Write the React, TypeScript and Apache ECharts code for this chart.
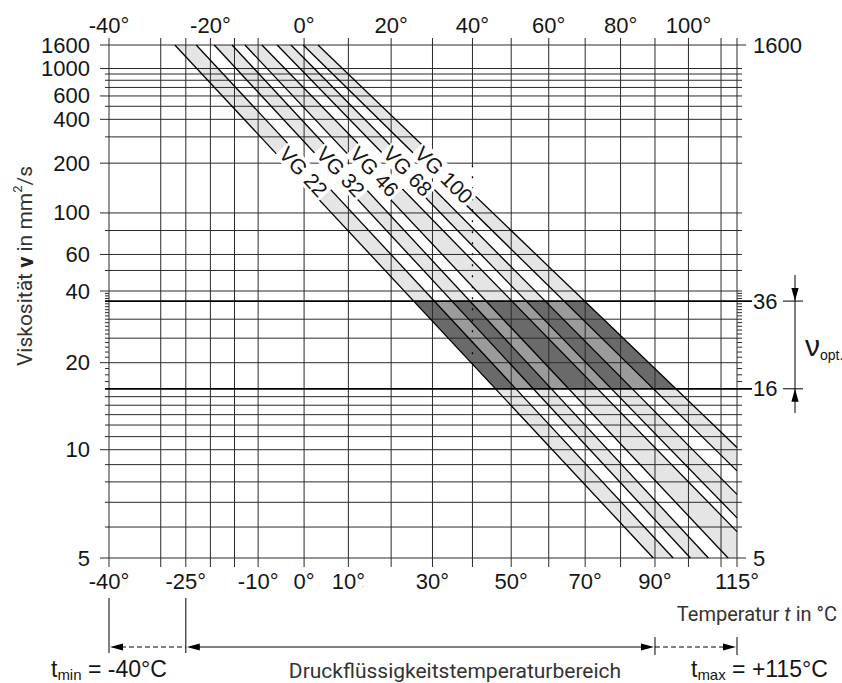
import React, { useEffect, useRef } from "react";
import * as echarts from "echarts";

// ---------- scales (Ubbelohde-Walther chart) ----------
const KELVIN = 273.15;
const WALTHER_C = 0.8;
const tx = (t: number) => Math.log10(t + KELVIN);
const ty = (v: number) => Math.log10(Math.log10(v + WALTHER_C));
const fromTx = (x: number) => Math.pow(10, x) - KELVIN;
const fromTy = (y: number) => Math.pow(10, Math.pow(10, y)) - WALTHER_C;

// ---------- data ----------
const tempMin = -40;
const tempMax = 115;
const viscMin = 5;
const viscMax = 1600;

const tempGrid = [-40, -30, -25, -20, -15, -10, 0, 10, 20, 30, 40, 50, 60, 70, 80, 90, 100, 110, 115];
const viscGrid = [5, 6, 7, 8, 9, 10, 11, 12, 13, 14, 15, 16, 20, 25, 30, 36, 40, 50, 60, 80, 100, 200, 300, 400, 500, 600, 700, 800, 900, 1000, 1600];
const viscMinorTicks = [17, 18, 19, 21, 22, 23, 24, 26, 27, 28, 29, 31, 32, 33, 34, 35, 37, 38, 39];

const tempLabelsBottom = [-40, -25, -10, 0, 10, 30, 50, 70, 90, 115];
const tempLabelsTop = [-40, -20, 0, 20, 40, 60, 80, 100];
const viscLabelsLeft = [1600, 1000, 600, 400, 200, 100, 60, 40, 20, 10, 5];
const viscLabelsRight = [1600, 36, 16, 5];

const grades = ["VG 22", "VG 32", "VG 46", "VG 68", "VG 100"];
// each grade band is bounded by two straight lines; temperature (°C) where each crosses 1600 and 5 mm²/s
const loEdgeT1600 = [-27.2, -19.2, -12.8, -5.9, -0.2];
const hiEdgeT1600 = [-22.9, -15.5, -9.2, -2.9, 3.1];
const loEdgeT5 = [89.5, 100.6, 112.2, 127.5, 144.0];
const hiEdgeT5 = [95.4, 106.1, 123.2, 135.4, 153.0];

const optVisc = [16, 36];
const gradeLabelVisc = 250;
const refTemp = 40;
const rangeTemps = [-40, -25, 90, 115];

// ---------- helpers ----------
const edgeXAt = (t1600: number, t5: number, v: number) => {
  const s = (ty(v) - ty(viscMax)) / (ty(viscMin) - ty(viscMax));
  return tx(t1600) + s * (tx(t5) - tx(t1600));
};
const edgeYAt = (t1600: number, t5: number, t: number) => {
  const s = (tx(t) - tx(t1600)) / (tx(t5) - tx(t1600));
  return ty(viscMax) + s * (ty(viscMin) - ty(viscMax));
};

function clipPoly(pts: number[][], x0: number, y0: number, x1: number, y1: number) {
  const tests: Array<[(p: number[]) => boolean, (a: number[], b: number[]) => number[]]> = [
    [(p) => p[0] >= x0, (a, b) => { const t = (x0 - a[0]) / (b[0] - a[0]); return [x0, a[1] + t * (b[1] - a[1])]; }],
    [(p) => p[0] <= x1, (a, b) => { const t = (x1 - a[0]) / (b[0] - a[0]); return [x1, a[1] + t * (b[1] - a[1])]; }],
    [(p) => p[1] >= y0, (a, b) => { const t = (y0 - a[1]) / (b[1] - a[1]); return [a[0] + t * (b[0] - a[0]), y0]; }],
    [(p) => p[1] <= y1, (a, b) => { const t = (y1 - a[1]) / (b[1] - a[1]); return [a[0] + t * (b[0] - a[0]), y1]; }],
  ];
  let out = pts;
  for (const [inside, inter] of tests) {
    const inp = out;
    out = [];
    if (!inp.length) break;
    for (let i = 0; i < inp.length; i++) {
      const cur = inp[i];
      const prev = inp[(i + inp.length - 1) % inp.length];
      if (inside(cur)) {
        if (!inside(prev)) out.push(inter(prev, cur));
        out.push(cur);
      } else if (inside(prev)) {
        out.push(inter(prev, cur));
      }
    }
  }
  return out;
}

function clipSeg(p: number[], q: number[], x0: number, y0: number, x1: number, y1: number) {
  let t0 = 0, t1 = 1;
  const dx = q[0] - p[0], dy = q[1] - p[1];
  const ps = [-dx, dx, -dy, dy];
  const qs = [p[0] - x0, x1 - p[0], p[1] - y0, y1 - p[1]];
  for (let i = 0; i < 4; i++) {
    if (ps[i] === 0) {
      if (qs[i] < 0) return null;
    } else {
      const r = qs[i] / ps[i];
      if (ps[i] < 0) { if (r > t1) return null; if (r > t0) t0 = r; }
      else { if (r < t0) return null; if (r < t1) t1 = r; }
    }
  }
  return [[p[0] + t0 * dx, p[1] + t0 * dy], [p[0] + t1 * dx, p[1] + t1 * dy]];
}

const NUM_FONT = "'Liberation Sans', Arial, Helvetica, sans-serif";
const TXT_FONT = "Roboto, 'Noto Sans', sans-serif";
const INK = "#151515";
const GRID = "#2a2a2a";

export default function App() {
  const ref = useRef<HTMLDivElement>(null);

  useEffect(() => {
    document.body.style.margin = "0";
    const chart = echarts.init(ref.current!, null, { renderer: "svg" });

    const xMin = tx(tempMin), xMax = tx(tempMax), yMin = ty(viscMin), yMax = ty(viscMax);

    const hiddenAxis = {
      type: "value" as const,
      axisLine: { show: false },
      axisTick: { show: false },
      splitLine: { show: false },
    };
    const numLabel = { color: INK, fontSize: 22, fontFamily: NUM_FONT };

    const bandData = grades.map((g, i) => ({
      name: g,
      value: [tx(loEdgeT1600[i]), tx(hiEdgeT1600[i]), tx(hiEdgeT5[i]), tx(loEdgeT5[i])],
    }));

    const edgeLines: number[][] = [];
    grades.forEach((_, i) => {
      edgeLines.push([tx(loEdgeT1600[i]), tx(loEdgeT5[i])]);
      edgeLines.push([tx(hiEdgeT1600[i]), tx(hiEdgeT5[i])]);
    });

    const rectOf = (params: any) => {
      const cs = params.coordSys;
      return [cs.x, cs.y, cs.x + cs.width, cs.y + cs.height];
    };

    const optPoly = (i0: number, i1: number) => [
      edgeXAt(loEdgeT1600[i0], loEdgeT5[i0], optVisc[1]),
      edgeXAt(hiEdgeT1600[i1], hiEdgeT5[i1], optVisc[1]),
      edgeXAt(hiEdgeT1600[i1], hiEdgeT5[i1], optVisc[0]),
      edgeXAt(loEdgeT1600[i0], loEdgeT5[i0], optVisc[0]),
    ];
    const renderOpt = (fill: string) => (params: any, api: any) => {
      const [x0, y0, x1, y1] = rectOf(params);
      const pts = [
        api.coord([api.value(0), ty(optVisc[1])]),
        api.coord([api.value(1), ty(optVisc[1])]),
        api.coord([api.value(2), ty(optVisc[0])]),
        api.coord([api.value(3), ty(optVisc[0])]),
      ];
      return { type: "polygon", shape: { points: clipPoly(pts, x0, y0, x1, y1) }, style: { fill } };
    };

    const option: any = {
      animation: false,
      grid: { left: 109, top: 45, width: 628, height: 513, outerBoundsMode: "none" },
      xAxis: [
        {
          ...hiddenAxis, position: "bottom", min: xMin, max: xMax,
          axisLabel: { ...numLabel, margin: 12, customValues: tempLabelsBottom.map(tx), formatter: (v: number) => Math.round(fromTx(v)) + "°" },
        },
        {
          ...hiddenAxis, position: "top", min: xMin, max: xMax,
          axisLabel: { ...numLabel, margin: 9, customValues: tempLabelsTop.map(tx), formatter: (v: number) => Math.round(fromTx(v)) + "°" },
        },
      ],
      yAxis: [
        {
          ...hiddenAxis, position: "left", min: yMin, max: yMax,
          axisLabel: { ...numLabel, margin: 19, customValues: viscLabelsLeft.map(ty), formatter: (v: number) => String(Math.round(fromTy(v))) },
        },
        {
          ...hiddenAxis, position: "right", min: yMin, max: yMax,
          axisLabel: { ...numLabel, margin: 16, customValues: viscLabelsRight.map(ty), formatter: (v: number) => String(Math.round(fromTy(v))) },
        },
      ],
      series: [
        // light grade bands
        {
          type: "custom", z: 1, silent: true,
          data: bandData,
          renderItem: (params: any, api: any) => {
            const [x0, y0, x1, y1] = rectOf(params);
            const pts = [
              api.coord([api.value(0), yMax]),
              api.coord([api.value(1), yMax]),
              api.coord([api.value(2), yMin]),
              api.coord([api.value(3), yMin]),
            ];
            return { type: "polygon", shape: { points: clipPoly(pts, x0, y0, x1, y1) }, style: { fill: "#e5e5e5" } };
          },
        },
        // optimum viscosity range background
        { type: "custom", z: 2, silent: true, data: [optPoly(0, 4)], renderItem: renderOpt("#9b9b9b") },
        // grade bands inside the optimum range
        { type: "custom", z: 3, silent: true, data: grades.map((_, i) => optPoly(i, i)), renderItem: renderOpt("#6a6a6a") },
        // vertical grid lines (temperature)
        {
          type: "custom", z: 4, silent: true,
          data: tempGrid.map((t) => [tx(t)]),
          renderItem: (params: any, api: any) => {
            const cs = params.coordSys;
            const t = tempGrid[params.dataIndex];
            const x = api.coord([api.value(0), yMin])[0];
            const top = cs.y - 7, bot = cs.y + cs.height + 9;
            if (t !== refTemp) {
              return { type: "line", shape: { x1: x, y1: top, x2: x, y2: bot }, style: { stroke: GRID, lineWidth: 1 } };
            }
            const yA = api.coord([api.value(0), edgeYAt(hiEdgeT1600[4], hiEdgeT5[4], t)])[1] - 28;
            const yB = api.coord([api.value(0), edgeYAt(loEdgeT1600[0], loEdgeT5[0], t)])[1];
            return {
              type: "group",
              children: [
                { type: "line", shape: { x1: x, y1: top, x2: x, y2: yA }, style: { stroke: GRID, lineWidth: 1 } },
                { type: "line", shape: { x1: x, y1: yA, x2: x, y2: yB }, style: { stroke: "#000", lineWidth: 1.3, lineDash: [2, 9] } },
                { type: "line", shape: { x1: x, y1: yB, x2: x, y2: bot }, style: { stroke: GRID, lineWidth: 1 } },
              ],
            };
          },
        },
        // horizontal grid lines (viscosity)
        {
          type: "custom", z: 4, silent: true,
          data: viscGrid.map((v) => [xMin, ty(v)]),
          renderItem: (params: any, api: any) => {
            const cs = params.coordSys;
            const v = viscGrid[params.dataIndex];
            const y = api.coord([api.value(0), api.value(1)])[1];
            const isOpt = optVisc.includes(v);
            const x1 = cs.x - (viscLabelsLeft.includes(v) ? 9 : 4);
            const x2 = cs.x + cs.width + (isOpt ? 15 : viscLabelsRight.includes(v) ? 9 : 5);
            return { type: "line", shape: { x1, y1: y, x2, y2: y }, style: { stroke: isOpt ? "#000" : GRID, lineWidth: isOpt ? 1.8 : 1 } };
          },
        },
        // minor ticks left and right
        {
          type: "custom", z: 4, silent: true,
          data: viscMinorTicks.map((v) => [xMin, ty(v)]),
          renderItem: (params: any, api: any) => {
            const cs = params.coordSys;
            const y = api.coord([api.value(0), api.value(1)])[1];
            return {
              type: "group",
              children: [
                { type: "line", shape: { x1: cs.x - 4, y1: y, x2: cs.x, y2: y }, style: { stroke: GRID, lineWidth: 1 } },
                { type: "line", shape: { x1: cs.x + cs.width, y1: y, x2: cs.x + cs.width + 5, y2: y }, style: { stroke: GRID, lineWidth: 1 } },
              ],
            };
          },
        },
        // band edge lines
        {
          type: "custom", z: 5, silent: true,
          data: edgeLines,
          renderItem: (params: any, api: any) => {
            const [x0, y0, x1, y1] = rectOf(params);
            const p = api.coord([api.value(0), yMax]);
            const q = api.coord([api.value(1), yMin]);
            const seg = clipSeg(p, q, x0, y0, x1, y1);
            if (!seg) return null;
            return { type: "line", shape: { x1: seg[0][0], y1: seg[0][1], x2: seg[1][0], y2: seg[1][1] }, style: { stroke: "#000", lineWidth: 1.3 } };
          },
        },
        // grade labels
        {
          type: "custom", z: 6, silent: true,
          data: grades.map((g, i) => ({
            name: g,
            value: [
              (edgeXAt(loEdgeT1600[i], loEdgeT5[i], gradeLabelVisc) + edgeXAt(hiEdgeT1600[i], hiEdgeT5[i], gradeLabelVisc)) / 2,
              ty(gradeLabelVisc),
            ],
          })),
          renderItem: (params: any, api: any) => {
            const i = params.dataIndex;
            const a = api.coord([api.value(0), api.value(1)]);
            const p = api.coord([tx(loEdgeT1600[i]), yMax]);
            const q = api.coord([tx(loEdgeT5[i]), yMin]);
            const ang = Math.atan2(q[1] - p[1], q[0] - p[0]);
            return {
              type: "text",
              x: a[0], y: a[1], rotation: -ang,
              style: {
                text: grades[i], fill: INK, fontSize: 21, fontFamily: NUM_FONT,
                align: "left", verticalAlign: "middle",
                backgroundColor: "#fff", padding: [0, 2, 0, 2],
              },
            };
          },
        },
      ],
    };

    chart.setOption(option);

    const px = (t: number) => chart.convertToPixel({ xAxisIndex: 0 }, tx(t)) as number;
    const py = (v: number) => chart.convertToPixel({ yAxisIndex: 0 }, ty(v)) as number;

    const [xL, xA, xB, xR] = rangeTemps.map(px);
    const ay = 647;
    const head = (tipX: number, tipY: number, dir: "l" | "r" | "u" | "d") => {
      const L = 13, W = 3.6;
      let pts: number[][];
      if (dir === "l") pts = [[tipX, tipY], [tipX + L, tipY - W], [tipX + L, tipY + W]];
      else if (dir === "r") pts = [[tipX, tipY], [tipX - L, tipY - W], [tipX - L, tipY + W]];
      else if (dir === "u") pts = [[tipX, tipY], [tipX - W, tipY + L], [tipX + W, tipY + L]];
      else pts = [[tipX, tipY], [tipX - W, tipY - L], [tipX + W, tipY - L]];
      return { type: "polygon", shape: { points: pts }, style: { fill: "#000" } };
    };
    const ln = (x1: number, y1: number, x2: number, y2: number, extra: any = {}) => ({
      type: "line", shape: { x1, y1, x2, y2 }, style: { stroke: "#000", lineWidth: 1, ...extra },
    });

    const y36 = py(optVisc[1]);
    const y16 = py(optVisc[0]);
    const nx = 795;

    const graphic: any[] = [
      // range brackets
      ln(xL, 598, xL, 653), ln(xA, 598, xA, 653), ln(xB, 637, xB, 655), ln(xR, 637, xR, 655),
      ln(xL + 12, ay, xA, ay, { lineDash: [5, 3] }),
      head(xL + 1, ay, "l"),
      ln(xA + 12, ay, xB - 12, ay),
      head(xA + 1, ay, "l"),
      head(xB - 1, ay, "r"),
      ln(xB, ay, xR - 12, ay, { lineDash: [5, 3] }),
      head(xR - 1, ay, "r"),
      // optimum viscosity marker
      ln(nx, 275, nx, 413),
      ln(783, y36, 803, y36),
      ln(783, y16, 803, y16),
      head(nx, y36, "d"),
      head(nx, y16, "u"),
      {
        type: "text", x: 805, y: (y36 + y16) / 2 + 1,
        style: {
          text: "{n|ν}{s|opt.}", verticalAlign: "middle", align: "left",
          rich: {
            n: { fontSize: 30, fontFamily: NUM_FONT, fill: INK, lineHeight: 32 },
            s: { fontSize: 14, fontFamily: NUM_FONT, fill: INK, lineHeight: 24, verticalAlign: "bottom" },
          },
        },
      },
      // y axis title
      {
        type: "text", x: 25, y: 266, rotation: Math.PI / 2,
        style: {
          text: "Viskosität {n|ν} in mm{s|2}/s", align: "center", verticalAlign: "middle",
          fontSize: 21, fontFamily: TXT_FONT, fill: "#333",
          rich: {
            n: { fontSize: 22, fontFamily: TXT_FONT, fontWeight: "bold", fill: "#222", lineHeight: 28 },
            s: { fontSize: 13, fontFamily: TXT_FONT, fill: "#333", lineHeight: 28, verticalAlign: "top" },
          },
        },
      },
      // x axis title
      {
        type: "text", x: 837, y: 614,
        style: {
          text: "Temperatur {i|t} in °C", align: "right", verticalAlign: "middle",
          fontSize: 20, fontFamily: TXT_FONT, fill: "#333",
          rich: { i: { fontSize: 20, fontStyle: "italic", fontFamily: TXT_FONT, fill: "#333" } },
        },
      },
      {
        type: "text", x: 455, y: 671,
        style: { text: "Druckflüssigkeitstemperaturbereich", align: "center", verticalAlign: "middle", fontSize: 21, fontFamily: TXT_FONT, fill: "#333" },
      },
      {
        type: "text", x: 51, y: 669,
        style: {
          text: "{m|t}{s|min}{m| = -40°C}", align: "left", verticalAlign: "middle",
          rich: {
            m: { fontSize: 23, fontFamily: NUM_FONT, fill: INK, lineHeight: 26 },
            s: { fontSize: 15, fontFamily: NUM_FONT, fill: INK, lineHeight: 18, verticalAlign: "bottom" },
          },
        },
      },
      {
        type: "text", x: 691, y: 669,
        style: {
          text: "{m|t}{s|max}{m| = +115°C}", align: "left", verticalAlign: "middle",
          rich: {
            m: { fontSize: 23, fontFamily: NUM_FONT, fill: INK, lineHeight: 26 },
            s: { fontSize: 15, fontFamily: NUM_FONT, fill: INK, lineHeight: 18, verticalAlign: "bottom" },
          },
        },
      },
    ];

    chart.setOption({ graphic });

    return () => chart.dispose();
  }, []);

  return <div ref={ref} style={{ width: 842, height: 683 }} />;
}
